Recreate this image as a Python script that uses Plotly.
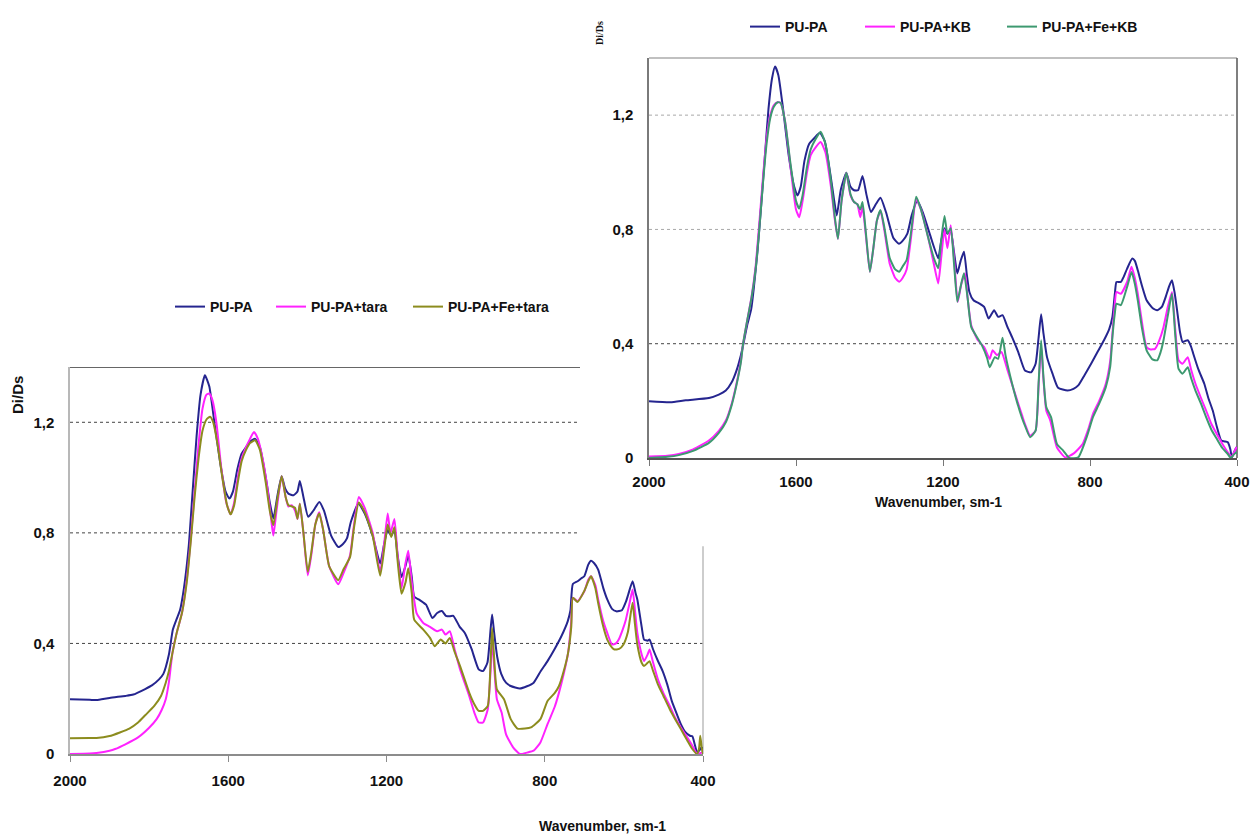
import plotly.graph_objects as go

# ---------------- Left chart (tara) ----------------
wn_l_pupa = [2000,1950,1933,1900,1860,1840,1810,1793,1775,1764,1750,1740,1730,1722,1712,1700,1690,1680,1670,1659,1648,1635,1620,1607,1597,1588,1577,1566,1555,1545,1532,1520,1505,1495,1486,1475,1465,1456,1448,1435,1425,1419,1410,1398,1385,1370,1358,1340,1322,1310,1300,1290,1271,1255,1235,1216,1206,1197,1188,1180,1172,1162,1152,1145,1136,1130,1115,1100,1084,1072,1060,1050,1040,1031,1015,1002,985,967,956,945,937,933,928,920,910,898,886,863,845,828,810,793,775,758,742,735,729,717,708,700,690,683,675,665,652,642,630,619,605,595,589,578,570,566,555,549,540,535,526,515,502,490,479,465,456,445,433,427,420,415,408,404,400]
di_l_pupa = [0.198,0.196,0.195,0.203,0.21,0.215,0.235,0.248,0.27,0.29,0.36,0.45,0.49,0.52,0.6,0.75,0.95,1.15,1.3,1.37,1.33,1.2,1.05,0.95,0.924,0.95,1.03,1.087,1.11,1.13,1.14,1.11,1.0,0.91,0.852,0.94,1.005,0.96,0.942,0.936,0.95,0.988,0.93,0.858,0.88,0.912,0.88,0.79,0.749,0.76,0.78,0.84,0.906,0.87,0.79,0.689,0.76,0.81,0.79,0.81,0.72,0.64,0.68,0.72,0.64,0.57,0.556,0.54,0.492,0.51,0.517,0.50,0.498,0.50,0.46,0.438,0.38,0.306,0.30,0.33,0.45,0.505,0.44,0.35,0.29,0.258,0.246,0.237,0.245,0.258,0.3,0.336,0.38,0.426,0.48,0.52,0.615,0.625,0.635,0.643,0.685,0.699,0.69,0.667,0.60,0.559,0.525,0.516,0.52,0.55,0.577,0.625,0.58,0.559,0.46,0.414,0.41,0.414,0.378,0.34,0.30,0.25,0.192,0.14,0.108,0.08,0.066,0.064,0.03,0.006,0.015,0.024,0.02]

wn_l_tara = [2000,1950,1933,1900,1886,1860,1828,1800,1781,1768,1758,1750,1741,1730,1717,1705,1694,1685,1675,1665,1655,1648,1640,1630,1618,1605,1594,1585,1575,1566,1555,1545,1535,1525,1512,1500,1490,1486,1478,1465,1455,1448,1440,1431,1425,1419,1410,1399,1390,1380,1370,1360,1345,1322,1310,1292,1283,1270,1255,1235,1216,1206,1197,1190,1180,1172,1162,1152,1145,1136,1124,1107,1090,1072,1060,1051,1040,1028,1014,991,978,967,956,944,937,933,928,921,909,898,880,863,845,828,811,793,775,764,752,741,733,729,717,700,690,683,672,665,652,642,630,620,613,603,595,585,578,572,566,555,549,540,535,526,514,500,484,470,456,440,427,415,408,400]
di_l_tara = [0.0,0.002,0.004,0.012,0.018,0.035,0.06,0.095,0.126,0.16,0.198,0.26,0.366,0.44,0.51,0.63,0.79,0.95,1.12,1.25,1.30,1.304,1.28,1.2,1.04,0.91,0.867,0.91,1.01,1.07,1.11,1.14,1.165,1.14,1.06,0.95,0.83,0.79,0.88,1.005,0.93,0.895,0.9,0.88,0.85,0.905,0.80,0.646,0.72,0.83,0.875,0.81,0.68,0.614,0.65,0.72,0.82,0.93,0.89,0.80,0.66,0.76,0.87,0.80,0.85,0.72,0.60,0.69,0.735,0.62,0.51,0.474,0.46,0.444,0.45,0.432,0.444,0.38,0.306,0.21,0.15,0.114,0.114,0.162,0.3,0.414,0.32,0.198,0.15,0.072,0.024,0.0,0.005,0.012,0.042,0.108,0.17,0.222,0.29,0.366,0.48,0.565,0.553,0.589,0.63,0.643,0.61,0.559,0.48,0.438,0.396,0.40,0.414,0.45,0.486,0.55,0.595,0.52,0.438,0.36,0.336,0.36,0.378,0.33,0.27,0.22,0.174,0.13,0.096,0.06,0.03,0.0,0.003,0.006]

wn_l_fetara = [2000,1950,1933,1900,1874,1850,1828,1810,1787,1770,1758,1750,1741,1730,1717,1705,1694,1685,1675,1665,1655,1646,1638,1627,1615,1603,1594,1585,1575,1566,1555,1545,1532,1520,1505,1495,1486,1476,1465,1455,1448,1438,1431,1425,1419,1410,1399,1390,1380,1370,1360,1345,1322,1308,1292,1283,1270,1255,1235,1216,1206,1197,1188,1180,1172,1162,1152,1145,1136,1130,1107,1090,1078,1063,1051,1040,1028,1014,991,978,967,956,944,937,933,928,921,903,886,869,850,835,811,793,775,764,752,741,733,729,717,700,690,683,672,665,652,642,630,624,612,601,590,578,572,566,555,549,540,535,526,514,500,484,470,456,440,427,415,410,407,403,400]
di_l_fetara = [0.057,0.058,0.058,0.065,0.078,0.092,0.114,0.14,0.174,0.21,0.258,0.30,0.366,0.44,0.51,0.62,0.78,0.93,1.07,1.17,1.21,1.22,1.2,1.12,1.0,0.9,0.867,0.9,0.99,1.06,1.1,1.125,1.135,1.1,0.98,0.88,0.828,0.92,1.005,0.93,0.90,0.895,0.89,0.851,0.905,0.80,0.659,0.73,0.83,0.87,0.81,0.68,0.629,0.67,0.713,0.81,0.91,0.875,0.79,0.645,0.74,0.83,0.785,0.82,0.70,0.58,0.62,0.672,0.58,0.486,0.45,0.42,0.39,0.414,0.40,0.42,0.37,0.318,0.222,0.18,0.156,0.156,0.174,0.33,0.456,0.35,0.234,0.198,0.126,0.092,0.092,0.096,0.126,0.192,0.22,0.246,0.30,0.366,0.46,0.565,0.55,0.59,0.625,0.643,0.60,0.546,0.46,0.414,0.385,0.378,0.38,0.396,0.44,0.547,0.47,0.396,0.33,0.318,0.33,0.336,0.30,0.252,0.21,0.162,0.125,0.09,0.05,0.018,0.0,0.02,0.066,0.02,0.0]

# ---------------- Right chart (KB) ----------------
wn_r_pupa = [2000,1942,1900,1837,1810,1791,1775,1762,1750,1744,1733,1722,1715,1705,1695,1685,1675,1665,1657,1648,1635,1620,1605,1596,1587,1577,1564,1550,1535,1522,1505,1496,1489,1478,1463,1452,1442,1431,1419,1408,1396,1382,1370,1355,1335,1320,1310,1297,1285,1270,1255,1235,1213,1205,1196,1188,1179,1170,1161,1152,1143,1135,1128,1117,1100,1088,1076,1061,1050,1038,1025,1012,995,977,960,948,940,933,927,917,902,887,861,845,832,815,797,780,762,748,739,732,728,716,708,699,685,678,670,658,646,630,617,604,594,585,577,570,563,555,548,540,534,525,519,505,489,478,466,455,443,434,425,418,414,408,402,400]
di_r_pupa = [0.199,0.195,0.202,0.21,0.222,0.236,0.265,0.306,0.36,0.394,0.464,0.52,0.593,0.72,0.88,1.05,1.22,1.33,1.37,1.34,1.22,1.06,0.95,0.919,0.95,1.04,1.10,1.12,1.138,1.11,0.98,0.9,0.849,0.94,0.998,0.95,0.937,0.937,0.987,0.92,0.861,0.89,0.911,0.86,0.77,0.75,0.76,0.785,0.85,0.90,0.86,0.78,0.699,0.76,0.804,0.785,0.793,0.72,0.646,0.69,0.722,0.64,0.58,0.552,0.54,0.529,0.488,0.517,0.494,0.50,0.46,0.423,0.37,0.306,0.30,0.33,0.42,0.503,0.44,0.353,0.295,0.246,0.236,0.242,0.254,0.29,0.33,0.37,0.412,0.45,0.494,0.58,0.616,0.616,0.635,0.663,0.698,0.69,0.657,0.60,0.552,0.525,0.517,0.53,0.564,0.60,0.622,0.58,0.517,0.44,0.406,0.41,0.412,0.39,0.365,0.31,0.26,0.21,0.166,0.11,0.061,0.058,0.055,0.03,0.002,0.02,0.037,0.03]

wn_r_kb = [2000,1950,1919,1880,1837,1810,1791,1775,1762,1750,1744,1733,1721,1710,1700,1690,1680,1670,1660,1650,1642,1630,1615,1600,1591,1582,1570,1560,1545,1533,1520,1505,1495,1486,1476,1463,1452,1442,1433,1425,1419,1410,1399,1390,1380,1370,1360,1345,1330,1319,1310,1299,1288,1273,1260,1240,1225,1213,1205,1196,1188,1179,1170,1160,1150,1140,1133,1123,1105,1088,1073,1065,1053,1041,1024,1001,985,977,963,948,940,933,927,919,908,890,867,844,820,805,792,775,757,745,739,733,728,716,699,687,678,670,658,646,635,623,612,600,588,577,568,559,548,534,525,513,498,484,470,455,440,425,414,408,402,400]
di_r_kb = [0.005,0.008,0.014,0.03,0.061,0.095,0.131,0.19,0.26,0.34,0.40,0.48,0.564,0.67,0.82,0.98,1.12,1.2,1.235,1.245,1.243,1.18,1.02,0.87,0.843,0.90,1.0,1.06,1.09,1.106,1.07,0.95,0.84,0.767,0.90,0.998,0.92,0.896,0.888,0.843,0.88,0.78,0.652,0.73,0.83,0.865,0.80,0.68,0.63,0.617,0.63,0.66,0.76,0.905,0.87,0.77,0.68,0.611,0.70,0.80,0.734,0.815,0.70,0.546,0.61,0.646,0.56,0.464,0.412,0.388,0.347,0.377,0.36,0.371,0.306,0.213,0.15,0.119,0.078,0.096,0.25,0.394,0.28,0.166,0.131,0.037,0.002,0.016,0.049,0.1,0.154,0.2,0.26,0.34,0.435,0.53,0.581,0.575,0.616,0.669,0.63,0.575,0.47,0.388,0.38,0.382,0.41,0.458,0.53,0.581,0.45,0.342,0.33,0.353,0.31,0.26,0.21,0.166,0.12,0.084,0.05,0.02,0.005,0.02,0.037,0.03]

wn_r_fekb = [2000,1950,1919,1880,1837,1810,1791,1775,1762,1750,1744,1733,1721,1710,1700,1690,1680,1670,1660,1650,1642,1630,1615,1600,1591,1582,1570,1560,1545,1533,1520,1505,1495,1486,1476,1463,1452,1442,1433,1425,1419,1410,1399,1390,1380,1370,1360,1345,1330,1319,1310,1299,1288,1273,1260,1240,1225,1213,1205,1196,1188,1179,1170,1161,1152,1143,1133,1123,1094,1080,1073,1059,1050,1038,1030,1024,1001,985,977,963,948,940,933,927,919,906,890,873,856,832,809,792,775,757,745,739,733,728,716,699,687,678,670,658,646,630,617,608,600,588,577,568,559,548,534,525,513,498,484,470,455,440,425,417,410,402,400]
di_r_fekb = [0.0,0.004,0.01,0.025,0.053,0.088,0.125,0.185,0.255,0.335,0.40,0.48,0.56,0.66,0.8,0.96,1.1,1.19,1.23,1.245,1.243,1.18,1.03,0.9,0.873,0.92,1.02,1.08,1.12,1.142,1.1,0.97,0.85,0.767,0.90,0.998,0.925,0.896,0.888,0.87,0.896,0.79,0.652,0.73,0.83,0.868,0.81,0.7,0.66,0.652,0.67,0.693,0.78,0.914,0.87,0.77,0.70,0.664,0.76,0.847,0.786,0.804,0.68,0.547,0.6,0.647,0.56,0.458,0.394,0.35,0.318,0.353,0.347,0.421,0.36,0.324,0.207,0.14,0.113,0.073,0.096,0.26,0.412,0.29,0.178,0.143,0.049,0.026,0.0,0.002,0.073,0.143,0.19,0.248,0.32,0.423,0.50,0.54,0.535,0.599,0.651,0.61,0.552,0.45,0.377,0.345,0.342,0.37,0.412,0.5,0.575,0.43,0.312,0.295,0.318,0.28,0.236,0.19,0.143,0.1,0.067,0.035,0.014,0.0,0.01,0.02,0.015]

x_ticks = [2000, 1600, 1200, 800, 400]
y_ticks = [0, 0.4, 0.8, 1.2]
y_ticktext = ["0", "0,4", "0,8", "1,2"]

C_BLUE = "#25258f"
C_MAG = "#ff22ff"
C_OLIVE = "#8c8c1e"
C_GREEN = "#3d9970"

W, H = 1250, 834
def px(x):
    return x / W
def py(y):
    return 1 - y / H

FONT = "Liberation Sans, Arial, sans-serif"

series = [
    (wn_l_pupa, di_l_pupa, "PU-PA", C_BLUE, "x", "y", "legend", 176),
    (wn_l_tara, di_l_tara, "PU-PA+tara", C_MAG, "x", "y", "legend2", 277),
    (wn_l_fetara, di_l_fetara, "PU-PA+Fe+tara", C_OLIVE, "x", "y", "legend3", 414),
    (wn_r_pupa, di_r_pupa, "PU-PA", C_BLUE, "x2", "y2", "legend4", 751),
    (wn_r_kb, di_r_kb, "PU-PA+KB", C_MAG, "x2", "y2", "legend5", 866),
    (wn_r_fekb, di_r_fekb, "PU-PA+Fe+KB", C_GREEN, "x2", "y2", "legend6", 1008),
]

fig = go.Figure()
legends = {}
for xs, ys, name, col, xa, ya, lg, lx in series:
    fig.add_trace(go.Scatter(
        x=xs, y=ys, name=name, mode="lines", xaxis=xa, yaxis=ya, legend=lg,
        line=dict(color=col, width=2, shape="spline", smoothing=0.5),
        hoverinfo="skip"))
    ly = 307 if ya == "y" else 27
    legends[lg] = dict(
        x=px(lx - 6), y=py(ly), xanchor="left", yanchor="middle",
        orientation="h", bgcolor="rgba(0,0,0,0)", borderwidth=0,
        font=dict(family=FONT, size=14, color="#111", weight="bold"),
        itemclick=False, itemdoubleclick=False)

tickfont = dict(family=FONT, size=15, color="#111", weight="bold")

xaxis_common = dict(
    range=[2000, 400], tickvals=x_ticks, ticktext=[str(v) for v in x_ticks],
    ticks="outside", ticklen=6, tickwidth=1, showgrid=False, zeroline=False,
    showline=True, tickfont=tickfont, fixedrange=True, automargin=False)
yaxis_common = dict(
    range=[0, 1.4], tickvals=y_ticks, ticktext=y_ticktext, ticks="",
    showgrid=False, zeroline=False, showline=True, tickfont=tickfont,
    ticklabelstandoff=11, fixedrange=True, automargin=False)

fig.update_layout(
    width=W, height=H,
    margin=dict(l=0, r=0, t=0, b=0, pad=0, autoexpand=False),
    paper_bgcolor="white", plot_bgcolor="rgba(0,0,0,0)",
    showlegend=True,
    xaxis=dict(xaxis_common, domain=[px(70), px(703)], anchor="y",
               linecolor="#8c8c8c", linewidth=1.5, tickcolor="#8c8c8c",
               ticklabelstandoff=6),
    yaxis=dict(yaxis_common, domain=[py(754), py(367)], anchor="x",
               linecolor="#b8b8b8", linewidth=1.5),
    xaxis2=dict(xaxis_common, domain=[px(649), px(1237)], anchor="y2",
                linecolor="#555555", linewidth=1.5, tickcolor="#777777",
                ticklabelstandoff=3),
    yaxis2=dict(yaxis_common, domain=[py(458), py(58)], anchor="x2",
                linecolor="#7a7a7a", linewidth=1.5),
    **legends,
)

shapes = []
cut = (580 - 70) / (703 - 70)
# left chart gridlines and frame (partly hidden behind right chart image)
for v, x1 in [(1.2, cut), (0.8, cut), (0.4, 1)]:
    shapes.append(dict(type="line", xref="x domain", yref="y", x0=0, x1=x1, y0=v, y1=v,
                       line=dict(color="#444444", width=1, dash="dot"), layer="below"))
shapes.append(dict(type="line", xref="x domain", yref="y", x0=0, x1=cut, y0=1.4, y1=1.4,
                   line=dict(color="#333333", width=1.5), layer="below"))
shapes.append(dict(type="line", xref="x domain", yref="y", x0=1, x1=1, y0=0, y1=(754 - 546) / 276.7,
                   line=dict(color="#bdbdbd", width=1.5), layer="below"))
# right chart gridlines and frame
for v, c in [(1.2, "#a8a8a8"), (0.8, "#a8a8a8"), (0.4, "#444444")]:
    shapes.append(dict(type="line", xref="x2 domain", yref="y2", x0=0, x1=1, y0=v, y1=v,
                       line=dict(color=c, width=1, dash="dot"), layer="below"))
shapes.append(dict(type="line", xref="x2 domain", yref="y2 domain", x0=0, x1=1, y0=1, y1=1,
                   line=dict(color="#c0c0c0", width=2), layer="below"))
shapes.append(dict(type="line", xref="x2 domain", yref="y2 domain", x0=1, x1=1, y0=0, y1=1,
                   line=dict(color="#555555", width=1.5), layer="below"))
fig.update_layout(shapes=shapes)

ann = [
    dict(text="Di/Ds", x=px(18), y=py(395), textangle=-90,
         font=dict(family=FONT, size=15, color="#111", weight="bold")),
    dict(text="Di/Ds", x=px(600), y=py(33), textangle=-90,
         font=dict(family="Liberation Serif, Times New Roman, serif", size=10, color="#111", weight="bold")),
    dict(text="Wavenumber, sm-1", x=px(602), y=py(826),
         font=dict(family=FONT, size=14, color="#111", weight="bold")),
    dict(text="Wavenumber, sm-1", x=px(938), y=py(502),
         font=dict(family=FONT, size=14, color="#111", weight="bold")),
]
for a in ann:
    a.update(xref="paper", yref="paper", showarrow=False, xanchor="center", yanchor="middle")
fig.update_layout(annotations=ann)

fig.write_html(
    "out.html",
    config={"displayModeBar": False},
    post_script="document.body.style.margin='0';document.body.style.padding='0';"
                "document.body.style.overflow='hidden';")
